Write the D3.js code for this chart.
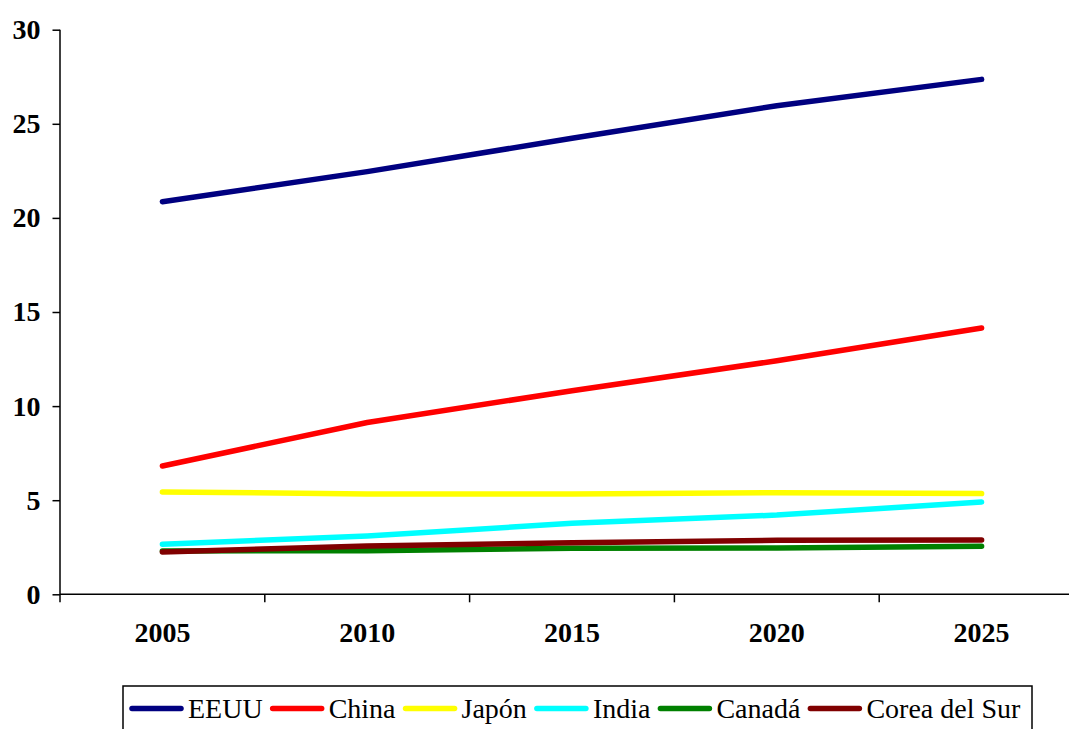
<!DOCTYPE html>
<html>
<head>
<meta charset="utf-8">
<script src="https://cdn.jsdelivr.net/npm/d3@7"></script>
<style>
  html, body { margin: 0; padding: 0; background: #fff; }
  svg { display: block; }
  text { font-family: "Liberation Serif", "Times New Roman", serif; }
</style>
</head>
<body>
<svg id="chart" width="1069" height="729"></svg>
<script>
// Years on the category axis
const years = ["2005", "2010", "2015", "2020", "2025"];

// Series, one array per country
const eeuu   = [20.86, 22.46, 24.23, 25.96, 27.36];
const china  = [6.82, 9.13, 10.82, 12.41, 14.15];
const japon  = [5.44, 5.33, 5.33, 5.40, 5.35];
const india  = [2.66, 3.10, 3.77, 4.21, 4.90];
const canada = [2.30, 2.32, 2.45, 2.46, 2.55];
const corea  = [2.25, 2.57, 2.74, 2.87, 2.88];

const seriesNames = ["EEUU", "China", "Japón", "India", "Canadá", "Corea del Sur"];
const seriesValues = [eeuu, china, japon, india, canada, corea];
const seriesColors = ["#000080", "#FF0000", "#FFFF00", "#00FFFF", "#008000", "#800000"];

// Value-axis ticks
const yTicks = [0, 5, 10, 15, 20, 25, 30];

const svg = d3.select("#chart");
const FONT = "'Liberation Serif', 'Times New Roman', serif";

const x = d3.scaleBand().domain(years).range([60, 1084]);
const y = d3.scaleLinear().domain([0, 30]).range([594.3, 29.7]);

// Y axis
const yAxis = d3.axisLeft(y).tickValues(yTicks).tickSize(7.5).tickPadding(12).tickFormat(d3.format("d"));
const gy = svg.append("g").attr("transform", "translate(60,0)").call(yAxis)
  .attr("font-family", FONT);
gy.select(".domain").attr("stroke", "#000").attr("stroke-width", 1.5).attr("d", `M0,${y(30)}V${y(0)}`);
gy.selectAll(".tick line").attr("stroke", "#000").attr("stroke-width", 1.5);
gy.selectAll(".tick text")
  .attr("font-size", 28).attr("font-weight", "bold").attr("fill", "#000");

// X axis: ticks sit on category boundaries, labels at band centres
const gx = svg.append("g").attr("transform", `translate(0,${y(0)})`);
gx.append("line").attr("x1", 60).attr("x2", 1084).attr("y1", 0).attr("y2", 0)
  .attr("stroke", "#000").attr("stroke-width", 1.5);
const boundaries = years.map(d => x(d)).concat([x(years[years.length - 1]) + x.bandwidth()]);
gx.selectAll("line.tick").data(boundaries).join("line").attr("class", "tick")
  .attr("x1", d => d).attr("x2", d => d).attr("y1", 0).attr("y2", 8)
  .attr("stroke", "#000").attr("stroke-width", 1.5);
gx.selectAll("text").data(years).join("text")
  .attr("x", d => x(d) + x.bandwidth() / 2).attr("y", 47.5)
  .attr("text-anchor", "middle").attr("font-size", 28).attr("font-weight", "bold")
  .text(d => d);

// Lines
const line = d3.line()
  .x((d, i) => x(years[i]) + x.bandwidth() / 2)
  .y(d => y(d));

svg.append("g").selectAll("path").data(seriesValues).join("path")
  .attr("d", d => line(d))
  .attr("fill", "none")
  .attr("stroke", (d, i) => seriesColors[i])
  .attr("stroke-width", 5.5)
  .attr("stroke-linecap", "round")
  .attr("stroke-linejoin", "round");

// Legend
const legend = svg.append("g");
legend.append("rect").attr("x", 123).attr("y", 686).attr("width", 909).attr("height", 60)
  .attr("fill", "#fff").attr("stroke", "#000").attr("stroke-width", 1.5);

let cx = 132;
const ly = 708.5;
seriesNames.forEach((name, i) => {
  legend.append("line").attr("x1", cx).attr("x2", cx + 49).attr("y1", ly).attr("y2", ly)
    .attr("stroke", seriesColors[i]).attr("stroke-width", 5.5).attr("stroke-linecap", "round");
  const t = legend.append("text").attr("x", cx + 56).attr("y", 718)
    .attr("font-size", 28).attr("fill", "#000").text(name);
  cx += 56 + t.node().getComputedTextLength() + 10;
});
</script>
</body>
</html>
